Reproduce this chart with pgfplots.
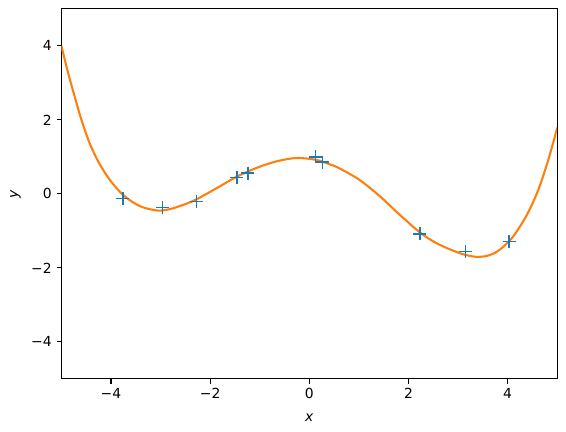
\documentclass[border=0pt]{standalone}
\usepackage{pgfplots}
\pgfplotsset{compat=1.18}
\usepackage{fontspec}
\setmainfont{DejaVu Sans}

\definecolor{mplblue}{HTML}{1F77B4}
\definecolor{mplorange}{HTML}{FF7F0E}

\begin{document}
\begin{tikzpicture}
  \begin{axis}[
      name=main,
      scale only axis,
      width=357pt, height=266.4pt,
      xmin=-5, xmax=5, ymin=-5, ymax=5,
      xtick={-4,-2,0,2,4},
      xticklabels={−4,−2,0,2,4},
      ytick={-4,-2,0,2,4},
      yticklabels={−4,−2,0,2,4},
      tick pos=left,
      tick align=outside,
      major tick length=3.5pt,
      every tick/.style={black, line width=0.8pt},
      axis line style={line width=0.8pt},
      ticklabel style={font=\fontsize{10}{12}\selectfont},
      xlabel={\textit{x}},
      ylabel={\textit{y}},
      label style={font=\fontsize{10}{12}\selectfont},
      xlabel style={at={(axis description cs:0.5,0)}, anchor=center, yshift=-28pt},
      ylabel style={at={(axis description cs:0,0.5)}, anchor=center, yshift=33pt},
      clip=true,
    ]
    % data points
    \addplot[only marks, mark=+, mark size=4.7pt, mplblue, mark options={line width=1pt}]
      coordinates {
        (-3.76,-0.12) (-2.96,-0.36) (-2.28,-0.21) (-1.46,0.44) (-1.24,0.56)
        (0.13,1.00) (0.27,0.86) (2.23,-1.08) (3.15,-1.56) (4.03,-1.29)
      };
    % fitted curve
    \addplot[smooth, mplorange, line width=1.5pt]
      coordinates {
        (-5.00,4.00) (-4.87,3.30) (-4.73,2.62) (-4.60,2.02) (-4.43,1.37)
        (-4.23,0.81) (-3.99,0.32) (-3.72,-0.07) (-3.40,-0.34) (-3.06,-0.45)
        (-2.81,-0.41) (-2.55,-0.30) (-2.28,-0.15) (-1.81,0.20) (-1.47,0.46)
        (-1.07,0.70) (-0.66,0.88) (-0.26,0.97) (0.14,0.92) (0.41,0.80)
        (0.61,0.69) (1.01,0.38) (1.42,-0.06) (1.82,-0.56) (2.22,-1.03)
        (2.52,-1.30) (2.82,-1.49) (3.10,-1.63) (3.36,-1.70) (3.60,-1.67)
        (3.83,-1.52) (4.10,-1.17) (4.37,-0.61) (4.57,-0.05) (4.70,0.42)
        (4.84,1.01) (5.00,1.79)
      };
  \end{axis}
  \useasboundingbox (main.south west) ++(-44.2pt,-38.2pt) rectangle ++(407.5pt,311pt);
\end{tikzpicture}
\end{document}
